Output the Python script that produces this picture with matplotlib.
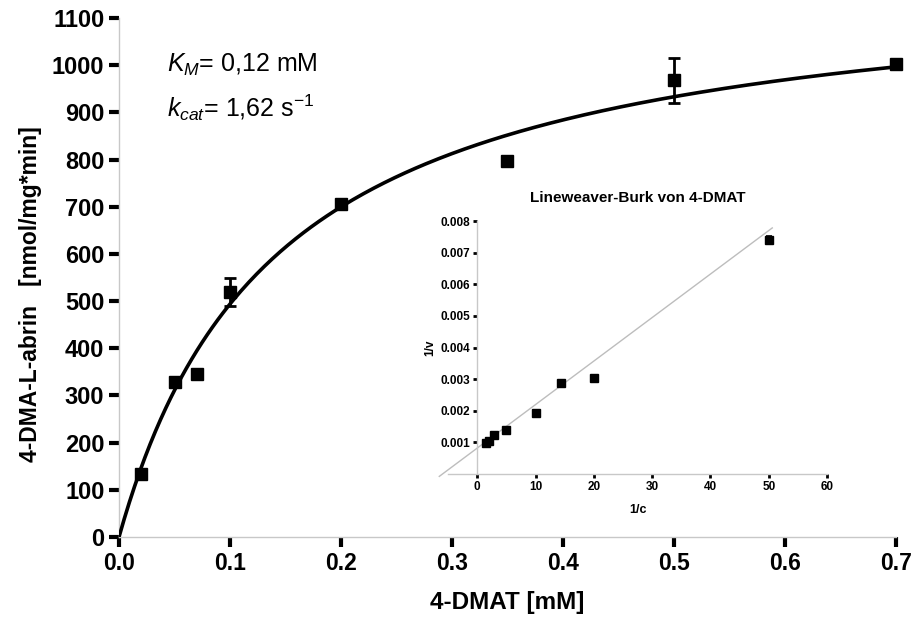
import numpy as np
import matplotlib
matplotlib.use("Agg")
import matplotlib.pyplot as plt

# ---- data ----
conc = [0.02, 0.05, 0.07, 0.1, 0.2, 0.35, 0.5, 0.7]          # mM
rate = [134, 328, 345, 519, 706, 796, 968, 1002]               # nmol/mg*min
rate_err = [0, 0, 0, 30, 0, 0, 48, 0]
fit_vmax = 1200.0
fit_km = 0.143

inv_c = [1.43, 2.0, 2.86, 5.0, 10.0, 14.3, 20.0, 50.0]
inv_v = [0.00099, 0.00103, 0.00124, 0.00140, 0.00193, 0.00287, 0.00303, 0.00741]
inv_v_err = [0, 0, 0, 0, 0, 0, 0, 0.00013]
lb_slope = 0.0001376
lb_intercept = 0.00082

main_xticks = [0.0, 0.1, 0.2, 0.3, 0.4, 0.5, 0.6, 0.7]
main_yticks = [0, 100, 200, 300, 400, 500, 600, 700, 800, 900, 1000, 1100]
inset_xticks = [0, 10, 20, 30, 40, 50, 60]
inset_yticks = [0.001, 0.002, 0.003, 0.004, 0.005, 0.006, 0.007, 0.008]

plt.rcParams['font.family'] = ['Liberation Sans', 'DejaVu Sans']
plt.rcParams['mathtext.fontset'] = 'custom'
plt.rcParams['mathtext.rm'] = 'Liberation Sans'
plt.rcParams['mathtext.it'] = 'Liberation Sans:italic'

fig = plt.figure(figsize=(9.14, 6.19), dpi=100)
ax = fig.add_axes([0.1302, 0.1325, 0.8501, 0.8384])

xs = np.linspace(0, 0.7, 300)
ax.plot(xs, fit_vmax * xs / (fit_km + xs), color='black', lw=2.6, zorder=3)
ax.plot(conc, rate, 's', color='black', ms=9, zorder=4, clip_on=False)
eidx = [i for i, e in enumerate(rate_err) if e > 0]
ax.errorbar([conc[i] for i in eidx], [rate[i] for i in eidx],
            yerr=[rate_err[i] for i in eidx], fmt='none', ecolor='black',
            capsize=4.5, elinewidth=2, capthick=2, zorder=4)

ax.set_xlim(0, 0.7)
ax.set_ylim(0, 1100)
ax.set_xticks(main_xticks)
ax.set_xticklabels([f"{t:.1f}" for t in main_xticks])
ax.set_yticks(main_yticks)
for s in ['top', 'right']:
    ax.spines[s].set_visible(False)
for s in ['left', 'bottom']:
    ax.spines[s].set_color('#c8c8c8')
    ax.spines[s].set_linewidth(1)
ax.tick_params(axis='both', direction='out', color='black', width=3, length=7)
for lab in ax.get_yticklabels():
    lab.set_fontweight('bold')
    lab.set_fontsize(17)
for lab in ax.get_xticklabels():
    lab.set_fontweight('bold')
    lab.set_fontsize(16.5)
ax.set_xlabel("4-DMAT [mM]", fontsize=17.5, fontweight='bold', labelpad=12)
ax.set_ylabel("4-DMA-L-abrin   [nmol/mg*min]", fontsize=16.5, fontweight='bold')
ax.yaxis.set_label_coords(-0.099, 0.468)

ax.text(0.043, 1000, r"$K_M$= 0,12 mM", fontsize=18, va='center')
ax.text(0.043, 910, r"$k_{cat}$= 1,62 s$^{-1}$", fontsize=18, va='center')

# ---- inset ----
ins = fig.add_axes([0.4902, 0.2342, 0.4147, 0.4087])
ins.set_xlim(-5, 60)
ins.set_ylim(0, 0.008)
lx = np.array([-6.5, 50.6])
ins.plot(lx, lb_intercept + lb_slope * lx, color='#bdbdbd', lw=1, clip_on=False, zorder=2)
ins.plot(inv_c, inv_v, 's', color='black', ms=5.5, zorder=4, clip_on=False)
iidx = [i for i, e in enumerate(inv_v_err) if e > 0]
ins.errorbar([inv_c[i] for i in iidx], [inv_v[i] for i in iidx],
             yerr=[inv_v_err[i] for i in iidx], fmt='none', ecolor='black',
             capsize=2, elinewidth=1.2, capthick=1.2, zorder=4)
ins.spines['left'].set_position(('data', 0))
for s in ['top', 'right']:
    ins.spines[s].set_visible(False)
for s in ['left', 'bottom']:
    ins.spines[s].set_color('#c8c8c8')
    ins.spines[s].set_linewidth(1)
ins.set_xticks(inset_xticks)
ins.set_yticks(inset_yticks)
ins.set_yticklabels([f"{t:.3f}" for t in inset_yticks])
ins.tick_params(axis='both', direction='out', color='black', width=2, length=3,
                labelsize=8.5, pad=2)
for lab in ins.get_xticklabels() + ins.get_yticklabels():
    lab.set_fontweight('bold')
ins.patch.set_alpha(0)
ins.set_title("Lineweaver-Burk von 4-DMAT", fontsize=11, fontweight='bold', pad=14)
ins.set_xlabel("1/c", fontsize=9, fontweight='bold', labelpad=8)
ins.text(-0.048, 0.5, "1/v", transform=ins.transAxes, rotation=90, fontsize=8.5,
         fontweight='bold', ha='center', va='center')

fig.savefig("out.png", dpi=100)
